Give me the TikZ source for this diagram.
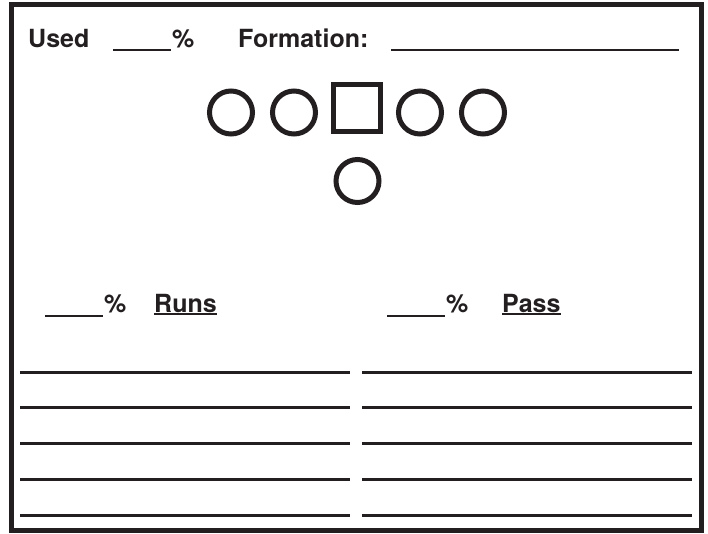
\documentclass[tikz,border=0pt]{standalone}
\usepackage{fontspec}
\setmainfont{TeX Gyre Heros}
\usetikzlibrary{positioning}
\definecolor{ink}{HTML}{231F20}

\begin{document}
\begin{tikzpicture}[x=1pt,y=-1pt,
  word/.style={font=\fontsize{25}{30}\selectfont\bfseries,text=ink,inner sep=0pt,anchor=base west},
  blank/.style={ink,line width=1.4pt},
  player/.style={circle,draw=ink,line width=5pt,minimum size=43pt,inner sep=0pt},
  snapper/.style={rectangle,draw=ink,line width=5pt,minimum size=47pt,inner sep=0pt},
  writeline/.style={ink,line width=3pt}]
  \useasboundingbox (0,0) rectangle (708,533);

  % Frame
  \draw[ink,line width=5pt] (11,4.5) rectangle (701.5,530.5);

  % Header
  \node[word] (used) at (28,47) {Used};
  \coordinate (usedA) at (113,50);
  \coordinate (usedB) at (171,50);
  \draw[blank] (usedA) -- (usedB);
  \node[word] (usedpct) at (172,47) {\%};
  \node[word] (formation) at (238,47) {Formation:};
  \coordinate (formA) at (391,50);
  \coordinate (formB) at (679,50);
  \draw[blank] (formA) -- (formB);

  % Line and backfield
  \node[player] (ltackle) at (231,112.5) {};
  \node[player] (lguard) at (294,112.5) {};
  \node[snapper] (center) at (357,107.5) {};
  \node[player] (rguard) at (420,112.5) {};
  \node[player] (rtackle) at (483,112.5) {};
  \node[player] (qb) at (357.5,181) {};

  % Runs / Pass
  \coordinate (runsA) at (45,316);
  \coordinate (runsB) at (103,316);
  \draw[blank] (runsA) -- (runsB);
  \node[word] (runspct) at (104,312) {\%};
  \node[word] (runs) at (154,312) {Runs};
  \draw[blank] ([yshift=-2pt]runs.base west) -- ([yshift=-2pt]runs.base east);

  \coordinate (passA) at (387,316);
  \coordinate (passB) at (445,316);
  \draw[blank] (passA) -- (passB);
  \node[word] (passpct) at (446,312) {\%};
  \node[word] (pass) at (502,312) {Pass};
  \draw[blank] ([yshift=-2pt]pass.base west) -- ([yshift=-2pt]pass.base east);

  % Writing lines
  \foreach \y in {372,407.5,443,479,515} {
    \draw[writeline] (20,\y) -- (350,\y);
    \draw[writeline] (362,\y) -- (692,\y);
  }
\end{tikzpicture}
\end{document}
